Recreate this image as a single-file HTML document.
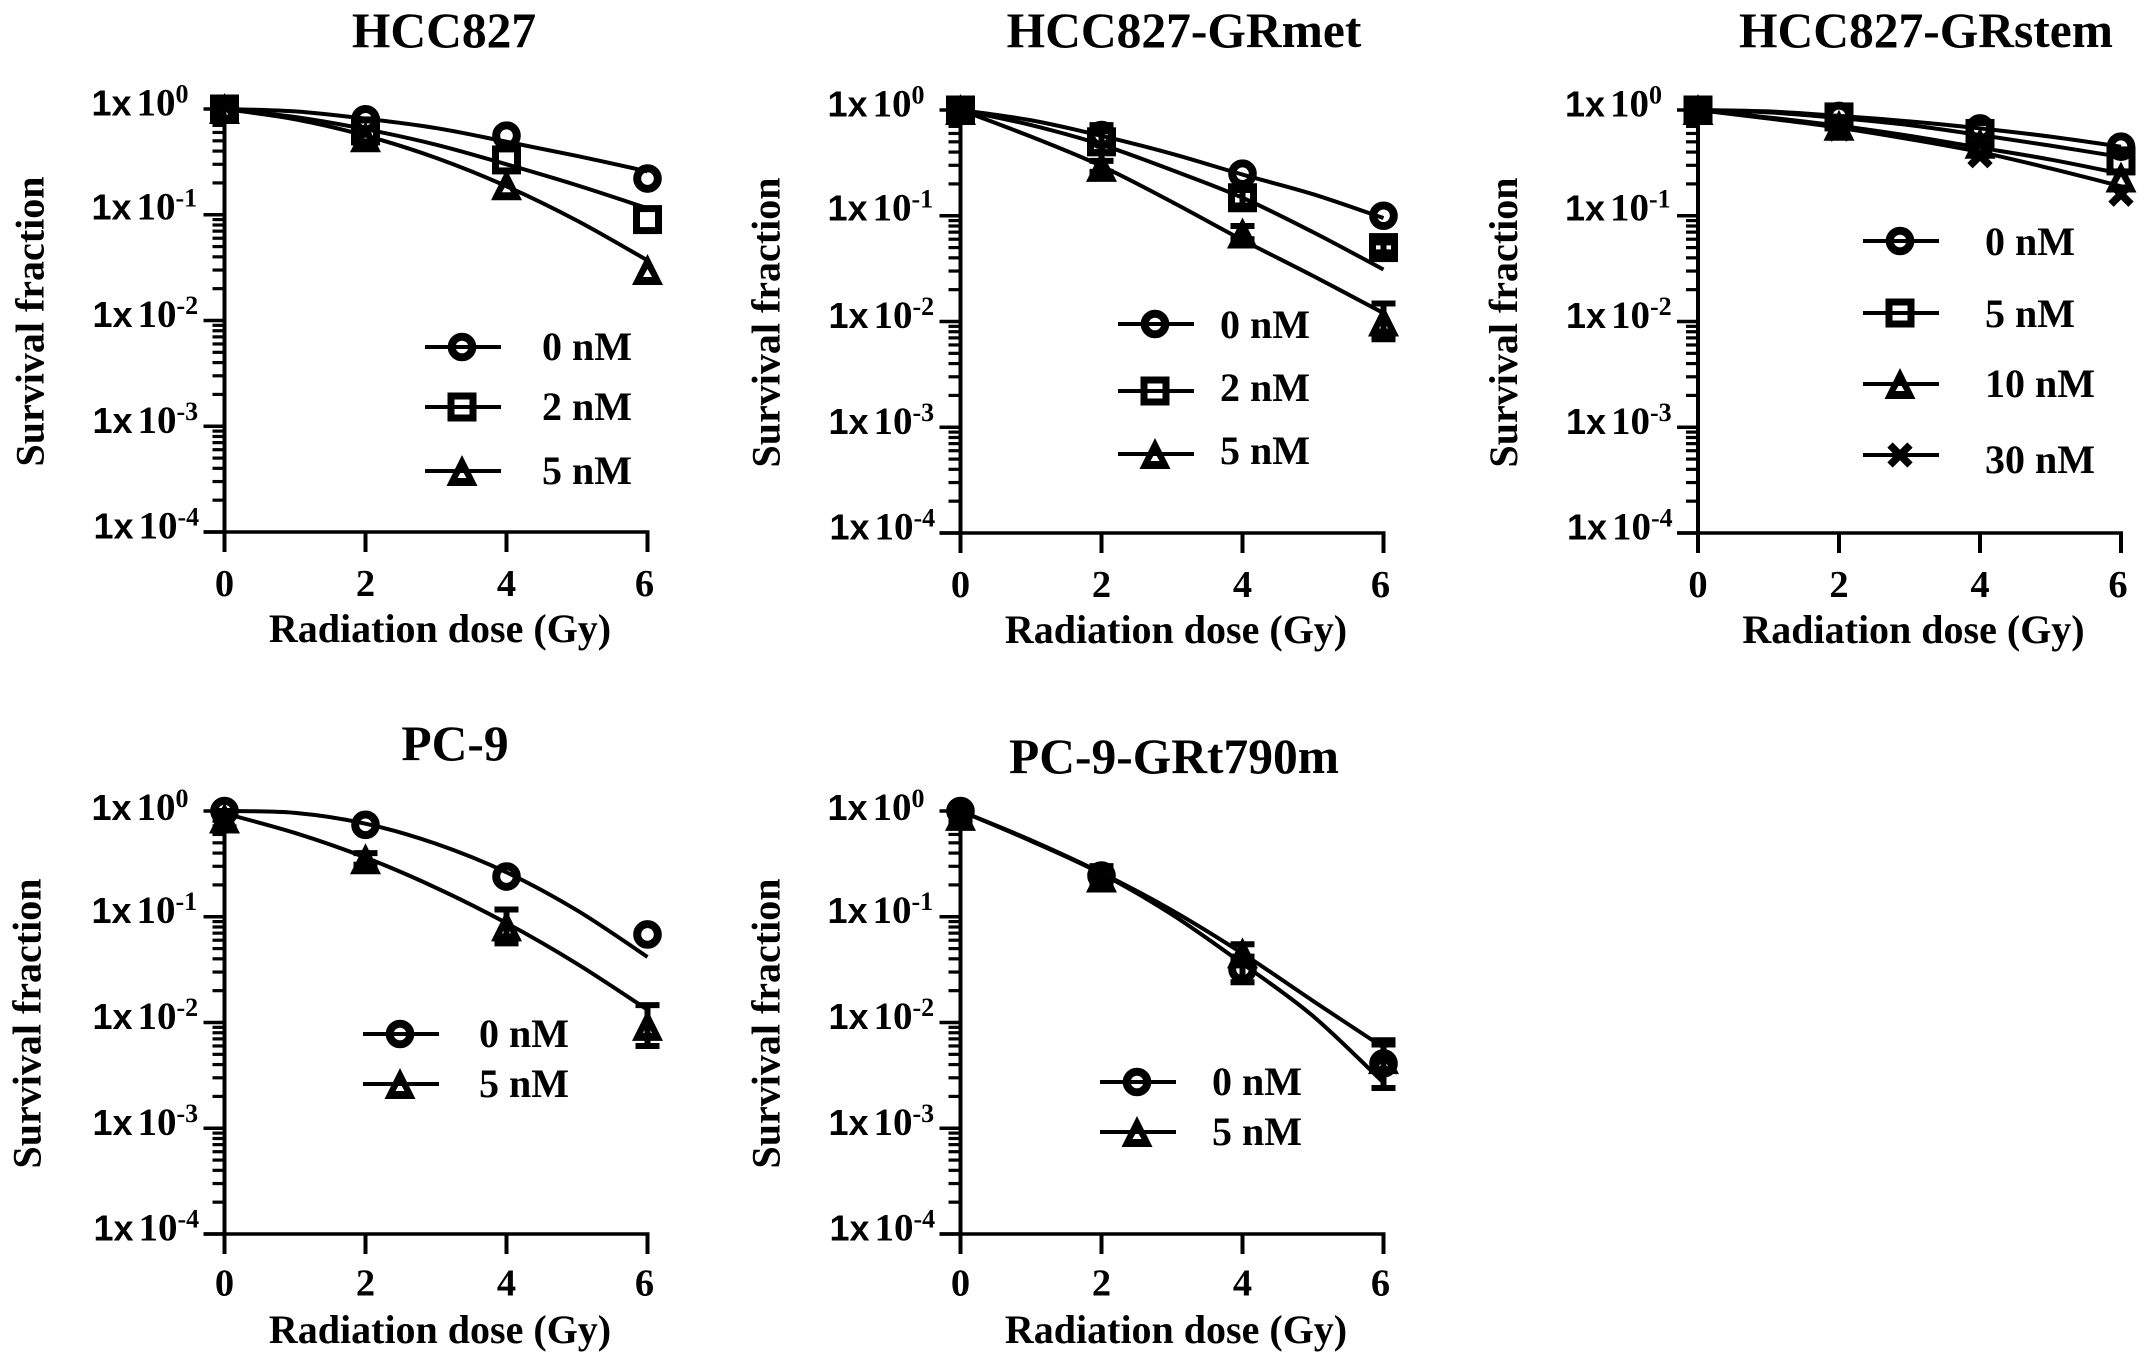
<!DOCTYPE html>
<html lang="en">
<head>
<meta charset="utf-8">
<title>Radiation survival curves</title>
<style>
html,body{margin:0;padding:0;background:#fff;width:2150px;height:1364px;overflow:hidden}
svg{display:block}
text{font-family:"Liberation Serif","Times New Roman",serif;font-weight:bold;fill:#000}
.sans{font-family:"Liberation Sans",Arial,sans-serif}
</style>
</head>
<body>
<svg id="figure" xmlns="http://www.w3.org/2000/svg" width="2150" height="1364" viewBox="0 0 2150 1364"></svg>
<script>
// ---- shared axis data ----
const doses = [0, 2, 4, 6];
const fitDoses = [0, 1, 2, 3, 4, 5, 6];
const xTickLabels = [0, 2, 4, 6];
const yExponents = [0, -1, -2, -3, -4];
const minorMultipliers = [2, 3, 4, 5, 6, 7, 8, 9];

// ---- HCC827 ----
const hcc827Points0 = [1, 0.8, 0.56, 0.22];
const hcc827Fit0 = [1, 0.95, 0.81, 0.66, 0.49, 0.36, 0.257];
const hcc827Points2 = [1, 0.62, 0.33, 0.09];
const hcc827Fit2 = [1, 0.84, 0.645, 0.46, 0.3, 0.19, 0.115];
const hcc827Points5 = [1, 0.54, 0.19, 0.03];
const hcc827Fit5 = [1, 0.8, 0.56, 0.345, 0.186, 0.088, 0.037];

// ---- HCC827-GRmet ----
const grmetPoints0 = [1, 0.58, 0.25, 0.1];
const grmetFit0 = [1, 0.8, 0.57, 0.385, 0.245, 0.16, 0.095];
const grmetPoints2 = [1, 0.5, 0.148, 0.05];
const grmetLow2 = [0.85, 0.4, 0.125, 0.045];
const grmetHigh2 = [1.1, 0.72, 0.175, 0.056];
const grmetFit2 = [1, 0.72, 0.47, 0.27, 0.148, 0.07, 0.031];
const grmetPoints5 = [1, 0.29, 0.068, 0.01];
const grmetLow5 = [0.85, 0.26, 0.06, 0.0068];
const grmetHigh5 = [1.1, 0.33, 0.08, 0.0148];
const grmetFit5 = [1, 0.56, 0.295, 0.135, 0.059, 0.027, 0.012];

// ---- HCC827-GRstem ----
const grstemPoints0 = [1, 0.88, 0.67, 0.45];
const grstemFit0 = [1, 0.97, 0.88, 0.78, 0.67, 0.56, 0.45];
const grstemPoints5 = [1, 0.86, 0.6, 0.33];
const grstemFit5 = [1, 0.95, 0.84, 0.72, 0.58, 0.46, 0.36];
const grstemPoints10 = [1, 0.71, 0.48, 0.23];
const grstemFit10 = [1, 0.85, 0.71, 0.57, 0.44, 0.34, 0.25];
const grstemPoints30 = [1, 0.66, 0.37, 0.16];
const grstemFit30 = [1, 0.83, 0.68, 0.53, 0.4, 0.28, 0.19];

// ---- PC-9 ----
const pc9Points0 = [1, 0.74, 0.24, 0.068];
const pc9Fit0 = [1, 0.96, 0.759, 0.49, 0.263, 0.115, 0.0417];
const pc9Points5 = [0.85, 0.35, 0.081, 0.0093];
const pc9Low5 = [0.7, 0.31, 0.056, 0.006];
const pc9High5 = [1, 0.4, 0.117, 0.0146];
const pc9Fit5 = [0.95, 0.62, 0.363, 0.188, 0.0871, 0.0359, 0.0132];

// ---- PC-9-GRt790m ----
const t790Points0 = [1, 0.245, 0.032, 0.0041];
const t790Low0 = [0.9, 0.2, 0.024, 0.0024];
const t790High0 = [1.1, 0.3, 0.042, 0.0068];
const t790Fit0 = [1, 0.52, 0.255, 0.105, 0.036, 0.0115, 0.0027];
const t790Points5 = [0.9, 0.235, 0.045, 0.0045];
const t790Low5 = [0.8, 0.2, 0.038, 0.0035];
const t790High5 = [1, 0.3, 0.055, 0.0062];
const t790Fit5 = [1, 0.53, 0.26, 0.115, 0.045, 0.016, 0.0058];

const NS = 'http://www.w3.org/2000/svg';
const root = document.getElementById('figure');

function make(tag, parent, attrs) {
  const el = document.createElementNS(NS, tag);
  for (const k in attrs) el.setAttribute(k, attrs[k]);
  parent.appendChild(el);
  return el;
}

function drawMarker(parent, shape, cx, cy) {
  if (shape === 'circle') {
    return make('circle', parent, {cx: cx, cy: cy, r: 10.3, fill: 'none', stroke: '#000', 'stroke-width': 8});
  }
  if (shape === 'square') {
    return make('rect', parent, {x: cx - 11, y: cy - 11, width: 22, height: 22, fill: 'none', stroke: '#000', 'stroke-width': 7});
  }
  if (shape === 'triangle') {
    const outer = 'M' + cx + ' ' + (cy - 16) + 'L' + (cx + 15.5) + ' ' + (cy + 15) + 'L' + (cx - 15.5) + ' ' + (cy + 15) + 'Z';
    const inner = 'M' + cx + ' ' + (cy - 1) + 'L' + (cx + 4.5) + ' ' + (cy + 7) + 'L' + (cx - 4.5) + ' ' + (cy + 7) + 'Z';
    return make('path', parent, {d: outer + inner, fill: '#000', 'fill-rule': 'evenodd'});
  }
  const d = 'M' + (cx - 10) + ' ' + (cy - 10) + 'L' + (cx + 10) + ' ' + (cy + 10) + 'M' + (cx + 10) + ' ' + (cy - 10) + 'L' + (cx - 10) + ' ' + (cy + 10);
  return make('path', parent, {d: d, fill: 'none', stroke: '#000', 'stroke-width': 7.5});
}

function drawPanel(panel) {
  const g = make('g', root, {});
  
  

  const xScale = d => panel.x0 + (d / 6) * (panel.x6 - panel.x0);
  const yScale = v => panel.y0 - (Math.log10(v) / 4) * (panel.y4 - panel.y0);
  const lower = panel.y0 > 500;

  const title = make('text', g, {x: panel.titleX, y: panel.titleY, 'text-anchor': 'middle', 'font-size': 49.5});
  title.textContent = panel.title;
  
  

  const yAxis = make('line', g, {x1: panel.x0, y1: panel.y0 - 2, x2: panel.x0, y2: panel.y4 + 1.5, stroke: '#000', 'stroke-width': 4});
  
  

  const xAxis = make('line', g, {x1: panel.x0 - 21, y1: panel.y4, x2: panel.x6 + 2, y2: panel.y4, stroke: '#000', 'stroke-width': 3.5});
  
  

  yExponents.forEach((exp, idx) => {
    const y = yScale(Math.pow(10, exp));
    const tick = make('line', g, {x1: panel.x0 - 21, y1: y, x2: panel.x0, y2: y, stroke: '#000', 'stroke-width': 3.5});
    
    

    const shift = idx === 4 ? 2 : (idx >= 2 ? 1 : 0);
    const offset = lower ? (exp === 0 ? 9 : (exp === -1 ? 6 : 6.5)) : (exp === -1 ? 4.5 : 6.5);
    const label = make('text', g, {y: y + offset, 'font-size': 39});
    
    
    const prefix = make('tspan', label, {x: panel.x0 - 133 + shift, 'class': 'sans', 'font-size': 36});
    prefix.textContent = '1x';
    const base = make('tspan', label, {x: panel.x0 - 88 + shift});
    base.textContent = '10';
    const sup = make('tspan', label, {dy: -13, 'font-size': 26});
    sup.textContent = String(exp);

    if (exp > -4) {
      minorMultipliers.forEach(m => {
        const my = yScale(m * Math.pow(10, exp - 1));
        const minor = make('line', g, {x1: panel.x0 - 12, y1: my, x2: panel.x0, y2: my, stroke: '#000', 'stroke-width': 3.2});
        
        
      });
    }
  });

  xTickLabels.forEach(d => {
    const x = xScale(d);
    const tick = make('line', g, {x1: x, y1: panel.y4, x2: x, y2: panel.y4 + 20, stroke: '#000', 'stroke-width': 4});
    
    

    const label = make('text', g, {x: d === 6 ? x - 3 : x, y: panel.y4 + (lower ? 61.5 : 64), 'text-anchor': 'middle', 'font-size': 38.5});
    label.textContent = d;
    
    
  });

  const xTitle = make('text', g, {x: (panel.x0 + panel.x6) / 2 + 4, y: panel.y4 + (lower ? 109 : 110), 'text-anchor': 'middle', 'font-size': 40});
  xTitle.textContent = 'Radiation dose (Gy)';
  
  

  const yCenter = (panel.y0 + panel.y4) / 2 + 1;
  const yTitle = make('text', g, {x: 0, y: 0, 'text-anchor': 'middle', 'font-size': 40, transform: 'translate(' + (panel.x0 - 181 + (panel.yTitleDx || 0)) + ' ' + yCenter + ') rotate(-90)'});
  yTitle.textContent = 'Survival fraction';
  
  

  panel.series.forEach((s, i) => {
    const sg = make('g', g, {});
    
    

    const pts = fitDoses.map((d, k) => [xScale(d), yScale(s.fit[k])]);
    let path = 'M' + pts[0][0] + ' ' + pts[0][1];
    for (let k = 0; k < pts.length - 1; k++) {
      const p0 = pts[Math.max(k - 1, 0)], p1 = pts[k], p2 = pts[k + 1], p3 = pts[Math.min(k + 2, pts.length - 1)];
      path += 'C' + (p1[0] + (p2[0] - p0[0]) / 6) + ' ' + (p1[1] + (p2[1] - p0[1]) / 6) + ' ' +
        (p2[0] - (p3[0] - p1[0]) / 6) + ' ' + (p2[1] - (p3[1] - p1[1]) / 6) + ' ' + p2[0] + ' ' + p2[1];
    }
    const curve = make('path', sg, {d: path, fill: 'none', stroke: '#000', 'stroke-width': 4});
    
    

    if (s.low && s.high) {
      doses.forEach((d, k) => {
        const x = xScale(d), yl = yScale(s.low[k]), yh = yScale(s.high[k]);
        const bar = make('path', sg, {
          d: 'M' + x + ' ' + yl + 'V' + yh + 'M' + (x - 12) + ' ' + yl + 'H' + (x + 12) + 'M' + (x - 12) + ' ' + yh + 'H' + (x + 12),
          fill: 'none', stroke: '#000', 'stroke-width': 6
        });
        
        
      });
    }

    doses.forEach((d, k) => {
      const mark = drawMarker(sg, s.shape, xScale(d), yScale(s.points[k]));
      
      
    });

    const ly = panel.legendY[i];
    const entry = make('g', g, {});
    
    
    const swatch = make('line', entry, {x1: panel.legendX, y1: ly, x2: panel.legendX + 76, y2: ly, stroke: '#000', 'stroke-width': 4});
    
    
    const lm = drawMarker(entry, s.shape, panel.legendX + 37, ly);
    
    
    const dy = panel.legendTextDy ? panel.legendTextDy[i] : 0;
    const lt = make('text', entry, {x: panel.legendTextX, y: ly + 13 + dy, 'font-size': 40});
    lt.textContent = s.label;
    
    
  });
}

drawPanel({
  slug: 'hcc827', title: 'HCC827', titleX: 444, titleY: 47,
  x0: 224.5, x6: 647.5, y0: 109, y4: 532,
  legendX: 425, legendTextX: 542, legendY: [347, 407, 471],
  series: [
    {label: '0 nM', shape: 'circle', points: hcc827Points0, fit: hcc827Fit0},
    {label: '2 nM', shape: 'square', points: hcc827Points2, fit: hcc827Fit2},
    {label: '5 nM', shape: 'triangle', points: hcc827Points5, fit: hcc827Fit5}
  ]
});

drawPanel({
  slug: 'hcc827-grmet', title: 'HCC827-GRmet', titleX: 1184, titleY: 47,
  x0: 960.5, x6: 1383.5, y0: 110, y4: 533,
  legendX: 1118, legendTextX: 1220,
  legendY: [324, 391, 454], legendTextDy: [1, -3, -3],
  series: [
    {label: '0 nM', shape: 'circle', points: grmetPoints0, fit: grmetFit0},
    {label: '2 nM', shape: 'square', points: grmetPoints2, fit: grmetFit2, low: grmetLow2, high: grmetHigh2},
    {label: '5 nM', shape: 'triangle', points: grmetPoints5, fit: grmetFit5, low: grmetLow5, high: grmetHigh5}
  ]
});

drawPanel({
  slug: 'hcc827-grstem', title: 'HCC827-GRstem', titleX: 1926, titleY: 47,
  x0: 1698, x6: 2121, y0: 110, y4: 533,
  legendX: 1863, legendTextX: 1985,
  legendY: [241, 313, 384, 455], legendTextDy: [1, 1, 0, 5],
  series: [
    {label: '0 nM', shape: 'circle', points: grstemPoints0, fit: grstemFit0},
    {label: '5 nM', shape: 'square', points: grstemPoints5, fit: grstemFit5},
    {label: '10 nM', shape: 'triangle', points: grstemPoints10, fit: grstemFit10},
    {label: '30 nM', shape: 'cross', points: grstemPoints30, fit: grstemFit30}
  ]
});

drawPanel({
  slug: 'pc-9', title: 'PC-9', titleX: 455, titleY: 760, yTitleDx: -3,
  x0: 224.5, x6: 647.5, y0: 811, y4: 1234,
  legendX: 363, legendTextX: 479, legendY: [1034, 1084],
  series: [
    {label: '0 nM', shape: 'circle', points: pc9Points0, fit: pc9Fit0},
    {label: '5 nM', shape: 'triangle', points: pc9Points5, fit: pc9Fit5, low: pc9Low5, high: pc9High5}
  ]
});

drawPanel({
  slug: 'pc-9-grt790m', title: 'PC-9-GRt790m', titleX: 1174, titleY: 773,
  x0: 960.5, x6: 1383.5, y0: 811, y4: 1234,
  legendX: 1100, legendTextX: 1212, legendY: [1082, 1132],
  series: [
    {label: '0 nM', shape: 'circle', points: t790Points0, fit: t790Fit0, low: t790Low0, high: t790High0},
    {label: '5 nM', shape: 'triangle', points: t790Points5, fit: t790Fit5, low: t790Low5, high: t790High5}
  ]
});
</script>
</body>
</html>
